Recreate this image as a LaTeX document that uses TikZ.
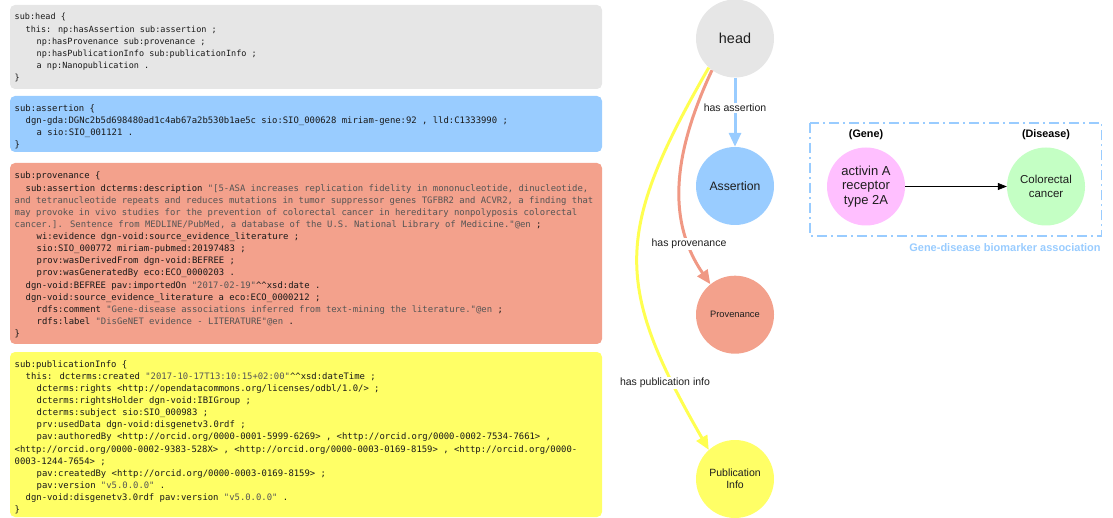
\documentclass[tikz,border=0pt]{standalone}
\usepackage{fontspec}
\setmainfont{Liberation Sans}
\newfontfamily\codefont{DejaVu Sans Mono}
\usetikzlibrary{arrows.meta}
\definecolor{hgray}{RGB}{230,230,230}
\definecolor{ablue}{RGB}{153,204,255}
\definecolor{psalmon}{RGB}{243,161,140}
\definecolor{esalmon}{RGB}{240,152,132}
\definecolor{pyellow}{RGB}{255,255,102}
\definecolor{eyellow}{RGB}{255,255,80}
\definecolor{gpink}{RGB}{255,191,255}
\definecolor{dgreen}{RGB}{196,255,196}
\definecolor{codeink}{RGB}{25,25,25}
\definecolor{strink}{RGB}{85,85,85}
\definecolor{nodeink}{RGB}{30,30,30}
\newcommand\cln[4]{\node[codeline] (#1) at (#2,#3) {#4};}
\newcommand\hln[4]{\node[codeline, font=\codefont\fontsize{8.5}{10}\selectfont] (#1) at (#2,#3) {#4};}
\newcommand\strlit[1]{\textcolor{strink}{#1}}
\newcommand\hh{\textasciicircum\textasciicircum}
\begin{document}
\begin{tikzpicture}[x=1pt,y=-1pt,
  codeline/.style={anchor=base west, inner sep=0pt, font=\codefont\fontsize{8.9}{10}\selectfont, text=codeink},
  panel/.style={rounded corners=5pt},
  gnode/.style={circle, inner sep=0pt, minimum size=78pt, align=center, text=nodeink},
  edgelab/.style={fill=white, inner sep=1.5pt, font=\fontsize{10.5}{12}\selectfont, text=nodeink},
  cedge/.style={line width=3pt, -{Triangle[length=14pt,width=12pt]}},
  catlab/.style={font=\bfseries\fontsize{10.8}{12}\selectfont, text=black},
]
\useasboundingbox (0,0) rectangle (1113,518);

% ---------- panels ----------
\fill[panel, hgray] (10,5) rectangle (602,89);
\fill[panel, ablue] (10,96) rectangle (602,152);
\fill[panel, psalmon] (10,163) rectangle (602,344);
\fill[panel, pyellow] (10,352) rectangle (602,517);

% ---------- head ----------
\def\xa{14.5}\def\xb{25.5}\def\xc{36.5}
\hln{h1}{\xa}{20}{sub:head \{}
\hln{h2}{\xb}{32.1}{this: np:hasAssertion sub:assertion ;}
\hln{h3}{\xc}{44.2}{np:hasProvenance sub:provenance ;}
\hln{h4}{\xc}{56.3}{np:hasPublicationInfo sub:publicationInfo ;}
\hln{h5}{\xc}{68.4}{a np:Nanopublication .}
\hln{h6}{\xa}{80.5}{\}}

% ---------- assertion ----------
\cln{a1}{\xa}{111.3}{sub:assertion \{}
\cln{a2}{\xb}{123.5}{dgn-gda:DGNc2b5d698480ad1c4ab67a2b530b1ae5c sio:SIO\_000628 miriam-gene:92 , lld:C1333990 ;}
\cln{a3}{\xc}{135.7}{a sio:SIO\_001121 .}
\cln{a4}{\xa}{147.9}{\}}

% ---------- provenance ----------
\cln{p1}{\xa}{179}{sub:provenance \{}
\cln{p2}{\xb}{191.1}{sub:assertion dcterms:description \strlit{"[5-ASA increases replication fidelity in mononucleotide, dinucleotide,}}
\cln{p3}{\xa}{203.2}{\strlit{and tetranucleotide repeats and reduces mutations in tumor suppressor genes TGFBR2 and ACVR2, a finding that}}
\cln{p4}{\xa}{215.4}{\strlit{may provoke in vivo studies for the prevention of colorectal cancer in hereditary nonpolyposis colorectal}}
\cln{p5}{\xa}{227.5}{\strlit{cancer.]. Sentence from MEDLINE/PubMed, a database of the U.S. National Library of Medicine."@en} ;}
\cln{p6}{\xc}{239.6}{wi:evidence dgn-void:source\_evidence\_literature ;}
\cln{p7}{\xc}{251.7}{sio:SIO\_000772 miriam-pubmed:20197483 ;}
\cln{p8}{\xc}{263.8}{prov:wasDerivedFrom dgn-void:BEFREE ;}
\cln{p9}{\xc}{276}{prov:wasGeneratedBy eco:ECO\_0000203 .}
\cln{p10}{\xb}{288.1}{dgn-void:BEFREE pav:importedOn \strlit{"2017-02-19"}\hh xsd:date .}
\cln{p11}{\xb}{300.2}{dgn-void:source\_evidence\_literature a eco:ECO\_0000212 ;}
\cln{p12}{\xc}{312.3}{rdfs:comment \strlit{"Gene-disease associations inferred from text-mining the literature."@en} ;}
\cln{p13}{\xc}{324.4}{rdfs:label \strlit{"DisGeNET evidence - LITERATURE"@en} .}
\cln{p14}{\xa}{336.6}{\}}

% ---------- publication info ----------
\cln{u1}{\xa}{367.3}{sub:publicationInfo \{}
\cln{u2}{\xb}{379.4}{this: dcterms:created \strlit{"2017-10-17T13:10:15+02:00"}\hh xsd:dateTime ;}
\cln{u3}{\xc}{391.5}{dcterms:rights <http://opendatacommons.org/licenses/odbl/1.0/> ;}
\cln{u4}{\xc}{403.6}{dcterms:rightsHolder dgn-void:IBIGroup ;}
\cln{u5}{\xc}{415.7}{dcterms:subject sio:SIO\_000983 ;}
\cln{u6}{\xc}{427.8}{prv:usedData dgn-void:disgenetv3.0rdf ;}
\cln{u7}{\xc}{439.9}{pav:authoredBy <http://orcid.org/0000-0001-5999-6269> , <http://orcid.org/0000-0002-7534-7661> ,}
\cln{u8}{\xa}{452}{<http://orcid.org/0000-0002-9383-528X> , <http://orcid.org/0000-0003-0169-8159> , <http://orcid.org/0000-}
\cln{u9}{\xa}{464.1}{0003-1244-7654> ;}
\cln{u10}{\xc}{476.2}{pav:createdBy <http://orcid.org/0000-0003-0169-8159> ;}
\cln{u11}{\xc}{488.3}{pav:version \strlit{"v5.0.0.0"} .}
\cln{u12}{\xb}{500.4}{dgn-void:disgenetv3.0rdf pav:version \strlit{"v5.0.0.0"} .}
\cln{u13}{\xa}{512.5}{\}}

% ---------- graph ----------
\node[gnode, fill=hgray, font=\fontsize{14.4}{16}\selectfont] (head) at (735,38.5) {head};
\node[gnode, fill=ablue, font=\fontsize{12.2}{14}\selectfont] (assert) at (735,186) {Assertion};
\node[gnode, fill=psalmon, font=\fontsize{9.3}{11}\selectfont] (prov) at (735,314.7) {Provenance};
\node[gnode, fill=pyellow, font=\fontsize{10.5}{12.4}\selectfont] (pub) at (735,479) {Publication\\Info};

\draw[cedge, draw=ablue] (head) -- (assert);
\draw[cedge, draw=esalmon] (head.234) .. controls +(-35,75) and +(-47,-68) .. (prov.129);
\draw[cedge, draw=eyellow] (head.228) .. controls +(-95,165) and +(-95,-165) .. (pub.132);

\node[edgelab] (la) at (735,108) {has assertion};
\node[edgelab] (lp) at (689,244) {has provenance};
\node[edgelab] (lu) at (665,383) {has publication info};

% ---------- gene-disease association ----------
\draw[ablue, line width=1.6pt, dash pattern=on 10pt off 4pt on 2pt off 4pt] (810,123) rectangle (1101.5,236);
\node[gnode, fill=gpink, font=\fontsize{13}{14.5}\selectfont] (gene) at (866,186.5) {activin A\\receptor\\type 2A};
\node[gnode, fill=dgreen, font=\fontsize{11.5}{13.4}\selectfont] (dis) at (1046,186.5) {Colorectal\\cancer};
\node[catlab] (glab) at (866,135) {(Gene)};
\node[catlab] (dlab) at (1046,135) {(Disease)};
\draw[line width=0.8pt, -{Triangle[length=9pt,width=7pt]}] (gene) -- (dis);
\node[font=\bfseries\fontsize{11}{13}\selectfont, text=ablue] (assoclab) at (1005,248) {Gene-disease biomarker association};
\end{tikzpicture}
\end{document}
